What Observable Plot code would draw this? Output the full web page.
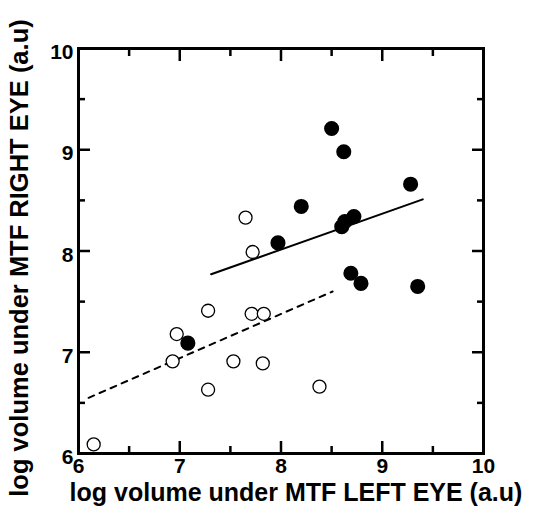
<!DOCTYPE html>
<html>
<head>
<meta charset="utf-8">
<script src="https://cdn.jsdelivr.net/npm/d3@7"></script>
<script src="https://cdn.jsdelivr.net/npm/@observablehq/plot@0.6"></script>
<style>
  html, body { margin: 0; padding: 0; background: #fff; }
</style>
</head>
<body>
<div id="chart"></div>
<script>
// Open circles
const openX = [6.15, 7.65, 7.72, 7.28, 6.97, 6.93, 7.28, 7.53, 7.71, 7.83, 7.82, 8.38];
const openY = [6.09, 8.33, 7.99, 7.41, 7.18, 6.91, 6.63, 6.91, 7.38, 7.38, 6.89, 6.66];
// Filled circles
const filledX = [7.08, 7.97, 8.20, 8.50, 8.62, 8.60, 8.63, 8.72, 9.28, 8.69, 8.79, 9.35];
const filledY = [7.09, 8.08, 8.44, 9.21, 8.98, 8.24, 8.29, 8.34, 8.66, 7.78, 7.68, 7.65];
// Regression lines (endpoints)
const solidFitX = [7.31, 9.40];
const solidFitY = [7.77, 8.51];
const dashedFitX = [6.10, 8.51];
const dashedFitY = [6.55, 7.60];
// Ticks
const majorTicks = [6, 7, 8, 9, 10];
const minorTicks = [6.5, 7.5, 8.5, 9.5];
const xTitle = "log volume under MTF LEFT EYE (a.u)";
const yTitle = "log volume under MTF RIGHT EYE (a.u)";

const openPts = openX.map((x, i) => ({x, y: openY[i]}));
const filledPts = filledX.map((x, i) => ({x, y: filledY[i]}));
const solidLine = solidFitX.map((x, i) => ({x, y: solidFitY[i]}));
const dashedLine = dashedFitX.map((x, i) => ({x, y: dashedFitY[i]}));

const font = "'Liberation Sans', Arial, sans-serif";
const tickOpts = {stroke: "#000", strokeWidth: 2.5, text: null};
const fmt = d => String(d);

const chart = Plot.plot({
  width: 537,
  height: 513,
  marginLeft: 78,
  marginRight: 54,
  marginTop: 48,
  marginBottom: 60,
  style: {fontFamily: font, fontWeight: "bold", fontSize: "21px", color: "#000", background: "#fff"},
  x: {domain: [6, 10]},
  y: {domain: [6, 10]},
  marks: [
    // major ticks inward on all sides
    Plot.axisX(majorTicks, {anchor: "bottom", tickSize: -12, ...tickOpts, label: null}),
    Plot.axisX(majorTicks, {anchor: "top", tickSize: -12, ...tickOpts, label: null}),
    Plot.axisY(majorTicks, {anchor: "left", tickSize: -12, ...tickOpts, label: null}),
    Plot.axisY(majorTicks, {anchor: "right", tickSize: -12, ...tickOpts, label: null}),
    // minor ticks
    Plot.axisX(minorTicks, {anchor: "bottom", tickSize: -7, ...tickOpts, label: null}),
    Plot.axisX(minorTicks, {anchor: "top", tickSize: -7, ...tickOpts, label: null}),
    Plot.axisY(minorTicks, {anchor: "left", tickSize: -7, ...tickOpts, label: null}),
    Plot.axisY(minorTicks, {anchor: "right", tickSize: -7, ...tickOpts, label: null}),
    // tick labels
    Plot.axisX(majorTicks, {anchor: "bottom", tickSize: 0, tickPadding: 5, tickFormat: fmt, label: null, fontSize: 21, fontWeight: "bold"}),
    Plot.axisY(majorTicks, {anchor: "left", tickSize: 0, tickPadding: 5, tickFormat: fmt, label: null, fontSize: 21, fontWeight: "bold", dy: 4}),
    Plot.frame({stroke: "#000", strokeWidth: 3}),
    // fit lines
    Plot.line(dashedLine, {x: "x", y: "y", stroke: "#000", strokeWidth: 2, strokeDasharray: "6,6"}),
    Plot.line(solidLine, {x: "x", y: "y", stroke: "#000", strokeWidth: 2}),
    // points
    Plot.dot(openPts, {x: "x", y: "y", r: 6.5, stroke: "#000", strokeWidth: 1.3, fill: "#fff"}),
    Plot.dot(filledPts, {x: "x", y: "y", r: 6.8, fill: "#000", stroke: "#000"}),
    // axis titles
    Plot.text([xTitle], {text: d => d, frameAnchor: "bottom", textAnchor: "middle", dy: 47, dx: 15, fontSize: 25, fontWeight: "bold", fill: "#000"}),
    Plot.text([yTitle], {text: d => d, frameAnchor: "left", textAnchor: "middle", rotate: -90, dx: -59, dy: 7, fontSize: 25.5, fontWeight: "bold", fill: "#000"})
  ]
});
document.getElementById("chart").appendChild(chart);
</script>
</body>
</html>
